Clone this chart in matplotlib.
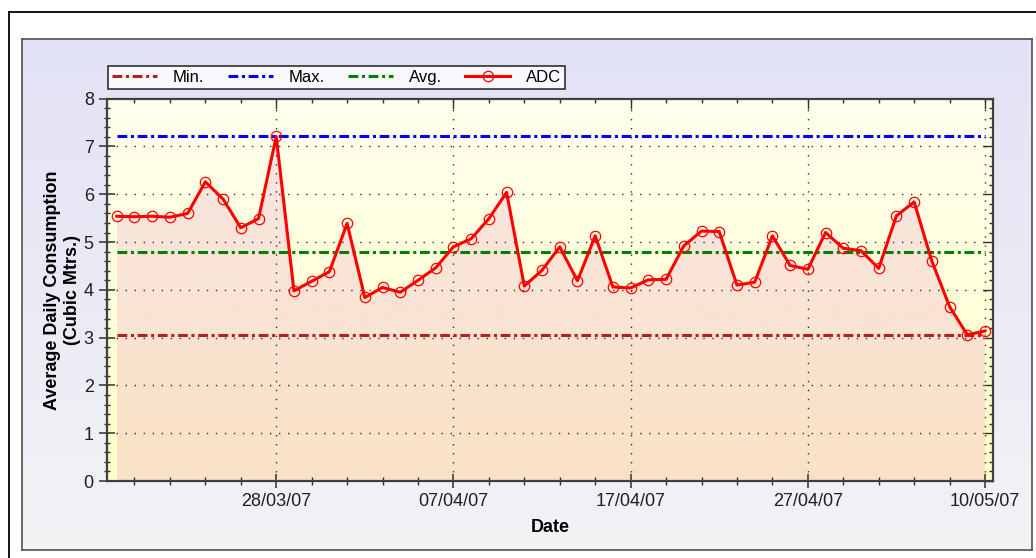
import numpy as np
import matplotlib
matplotlib.use("Agg")
import matplotlib.pyplot as plt
from matplotlib.patches import Polygon
from matplotlib.lines import Line2D
from matplotlib.colors import LinearSegmentedColormap
from matplotlib.ticker import MultipleLocator, FixedLocator

plt.rcParams['font.family'] = ['Liberation Sans', 'DejaVu Sans']

# average daily consumption, one value per reading
adc = [5.54, 5.53, 5.54, 5.52, 5.60, 6.26, 5.90, 5.30, 5.49, 7.21,
       3.98, 4.18, 4.38, 5.39, 3.84, 4.05, 3.95, 4.20, 4.46, 4.90,
       5.07, 5.49, 6.04, 4.08, 4.41, 4.90, 4.19, 5.13, 4.06, 4.04,
       4.21, 4.22, 4.92, 5.23, 5.22, 4.10, 4.16, 5.13, 4.51, 4.43,
       5.20, 4.87, 4.82, 4.45, 5.55, 5.84, 4.60, 3.65, 3.06, 3.14]
date_ticks = [9, 19, 29, 39, 49]
date_labels = ['28/03/07', '07/04/07', '17/04/07', '27/04/07', '10/05/07']

x = np.arange(len(adc))
y = np.array(adc)
y_min = np.full(len(adc), y.min())
y_max = np.full(len(adc), y.max())
y_avg = np.full(len(adc), y.mean())

W, H = 1036, 558
fig = plt.figure(figsize=(W / 100, H / 100), dpi=100)
fig.patch.set_facecolor('white')

# outer frame (runs off the right/bottom of the picture)
fig.add_artist(Line2D([8.5 / W, 8.5 / W], [0, 1 - 12 / H], color='black', lw=1.3, transform=fig.transFigure))
fig.add_artist(Line2D([8.5 / W, 1], [1 - 12 / H, 1 - 12 / H], color='black', lw=1.3, transform=fig.transFigure))

# lavender panel
bg = fig.add_axes([22 / W, 1 - 550 / H, (1032 - 22) / W, (550 - 39) / H])
panel_cmap = LinearSegmentedColormap.from_list('panel', ['#f3f3f5', '#e2e2f6'])
bg.imshow(np.linspace(0, 1, 256).reshape(-1, 1), cmap=panel_cmap, aspect='auto',
          extent=[0, 1, 0, 1], origin='lower')
bg.set_xlim(0, 1)
bg.set_ylim(0, 1)
bg.set_xticks([])
bg.set_yticks([])
for s in bg.spines.values():
    s.set_color('#505050')
    s.set_linewidth(1.2)

ax = fig.add_axes([107 / W, 1 - 481 / H, (993 - 107) / W, (481 - 98.7) / H])

# plot area background gradient
area_cmap = LinearSegmentedColormap.from_list('area', ['#ffffc6', '#fffff0'])
ax.imshow(np.linspace(0, 1, 256).reshape(-1, 1), cmap=area_cmap, aspect='auto',
          extent=[0, 1, 0, 1], origin='lower', transform=ax.transAxes, zorder=0)

# filled area under ADC with its own gradient
fill_cmap = LinearSegmentedColormap.from_list('fill', ['#f9e2c4', '#f9e6e6'])
verts = [(x[0], 0)] + list(zip(x, y)) + [(x[-1], 0)]
poly = Polygon(verts, closed=True, facecolor='none', edgecolor='none', transform=ax.transData)
ax.add_patch(poly)
im = ax.imshow(np.linspace(0, 1, 256).reshape(-1, 1), cmap=fill_cmap, aspect='auto',
               extent=[x[0], x[-1], 0, 8], origin='lower', zorder=1)
im.set_clip_path(poly)
ax.set_xlim(-0.55, 49.45)
ax.set_ylim(0, 8)

# grid
for gy in range(1, 8):
    ax.axhline(gy, color='#303030', lw=1.0, ls=(0, (1, 5.5)), zorder=2)
for gx in date_ticks:
    ax.axvline(gx, color='#303030', lw=1.0, ls=(0, (1, 5.5)), zorder=2)

dd = (0, (3.2, 1.2, 1.0, 1.2))
ax.plot(x, y_min, color='#b22222', lw=2.2, ls=dd, label='Min.', zorder=3)
ax.plot(x, y_max, color='#0000ff', lw=2.2, ls=dd, label='Max.', zorder=3)
ax.plot(x, y_avg, color='#008000', lw=2.2, ls=dd, label='Avg.', zorder=3)
ax.plot(x, y, color='#ff0000', lw=2.2, marker='o', markersize=7.5, markerfacecolor='none',
        markeredgecolor='#ff0000', markeredgewidth=0.9, label='ADC', zorder=4)

# axes styling
for s in ax.spines.values():
    s.set_color('#404040')
    s.set_linewidth(1.6)
    s.set_zorder(5)

ax.xaxis.set_major_locator(FixedLocator(date_ticks))
ax.xaxis.set_minor_locator(FixedLocator(list(range(1, 50, 2))))
ax.set_xticklabels(date_labels)
ax.yaxis.set_major_locator(MultipleLocator(1))
ax.yaxis.set_minor_locator(MultipleLocator(0.2))

ax.tick_params(axis='y', which='major', direction='inout', length=11, width=1.1, color='#303030',
               labelsize=13, pad=4, labelcolor='#202020')
ax.tick_params(axis='y', which='minor', direction='inout', length=5, width=1.0, color='#303030')
ax.tick_params(axis='x', which='major', direction='inout', length=10, width=1.1, color='#303030',
               labelsize=13, pad=4, labelcolor='#202020')
ax.tick_params(axis='x', which='minor', direction='inout', length=6, width=1.0, color='#303030')

# inward ticks on top and right
top = ax.secondary_xaxis('top')
top.xaxis.set_major_locator(FixedLocator(date_ticks))
top.xaxis.set_minor_locator(FixedLocator(list(range(1, 50, 2))))
top.tick_params(which='major', direction='in', length=7, width=1.0, color='#303030', labeltop=False)
top.tick_params(which='minor', direction='in', length=3, width=1.0, color='#303030')
top.spines['top'].set_visible(False)
right = ax.secondary_yaxis('right')
right.yaxis.set_major_locator(MultipleLocator(1))
right.yaxis.set_minor_locator(MultipleLocator(0.2))
right.tick_params(which='major', direction='in', length=7, width=1.0, color='#303030', labelright=False)
right.tick_params(which='minor', direction='in', length=3, width=1.0, color='#303030')
right.spines['right'].set_visible(False)

ax.set_xlabel('Date', fontsize=13, fontweight='bold', labelpad=6)
ax.set_ylabel('Average Daily Consumption\n(Cubic Mtrs.)', fontsize=13, fontweight='bold', labelpad=2)

leg = ax.legend(loc='upper left', bbox_to_anchor=(108 / W, 1 - 66 / H), bbox_transform=fig.transFigure,
                ncol=4, fontsize=12, frameon=True, fancybox=False, borderaxespad=0, borderpad=0.25,
                handlelength=2.7, handletextpad=0.95, columnspacing=1.4)
leg.get_frame().set_edgecolor('black')
leg.get_frame().set_linewidth(1.2)

fig.savefig('out.png', dpi=100)
